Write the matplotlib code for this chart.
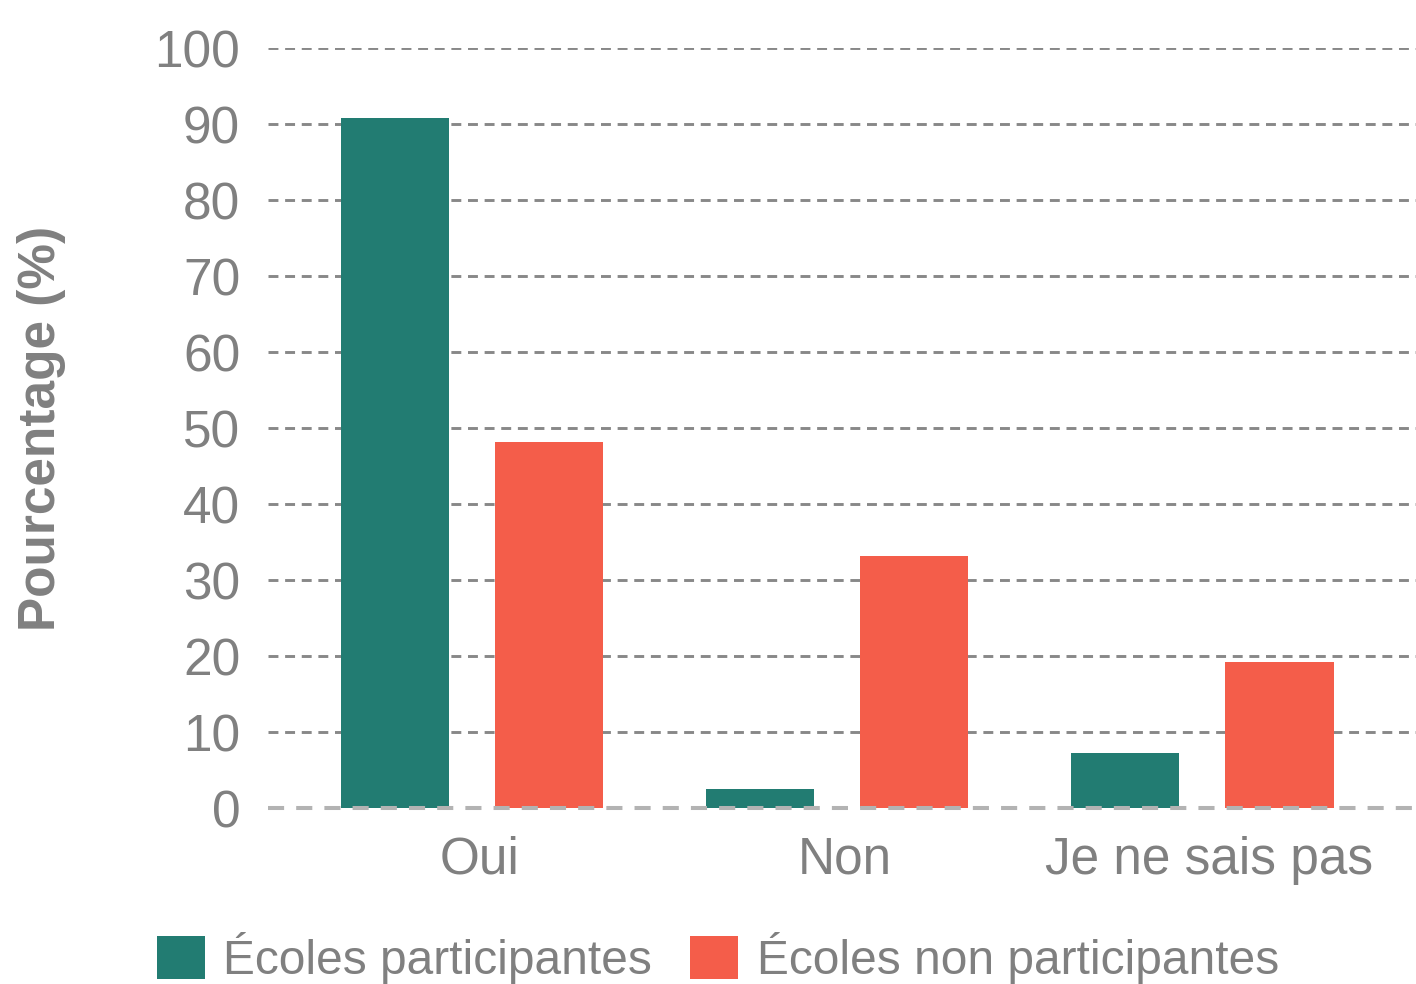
import matplotlib
matplotlib.use("Agg")
import matplotlib.pyplot as plt
import numpy as np

categories = ["Oui", "Non", "Je ne sais pas"]
participantes = [90.8, 2.5, 7.2]
non_participantes = [48.2, 33.2, 19.2]
series_labels = ["Écoles participantes", "Écoles non participantes"]
yticks = list(range(0, 101, 10))

GREEN = "#227c72"
RED = "#f45d4a"
TEXT = "#808080"

plt.rcParams["font.family"] = ["Liberation Sans", "DejaVu Sans"]

fig = plt.figure(figsize=(14.16, 9.84), dpi=100)
ax = fig.add_axes([268 / 1416, 1 - 808 / 984, 1 - 268 / 1416, (808 - 48) / 984])

x = np.arange(len(categories))
width = 0.296
offset = 0.212
ax.bar(x - offset, participantes, width, color=GREEN, label=series_labels[0], zorder=2)
ax.bar(x + offset, non_participantes, width, color=RED, label=series_labels[1], zorder=2)

ax.set_xlim(-0.559, 2.586)
ax.set_ylim(0, 100)
ax.set_yticks(yticks)
ax.set_xticks(x + 0.02)
ax.set_xticklabels(categories)

# dashed grid behind the bars, lighter baseline over them
for y in yticks[1:]:
    ax.axhline(y, color="#888888", lw=2.1, ls=(0, (3.4, 2.3)), zorder=1)
ax.axhline(0, color="#b3b3b3", lw=2.9, ls=(0, (4.0, 3.0)), zorder=3, clip_on=False)

for s in ax.spines.values():
    s.set_visible(False)
ax.tick_params(axis="both", length=0, labelsize=37, labelcolor=TEXT)
ax.tick_params(axis="y", pad=20)
ax.tick_params(axis="x", pad=20)

ax.set_ylabel("Pourcentage (%)", fontsize=37, fontweight="bold", color=TEXT)
ax.yaxis.set_label_coords(-(268 - 66) / 1148, 0.5)

leg = fig.legend(loc="center", bbox_to_anchor=(0.507, 1 - 958 / 984), ncol=2, frameon=False,
                 fontsize=34.5, labelcolor=TEXT, handlelength=1.0, handleheight=1.0,
                 handletextpad=0.38, columnspacing=0.8, borderaxespad=0)

fig.savefig("out.png", dpi=100)
